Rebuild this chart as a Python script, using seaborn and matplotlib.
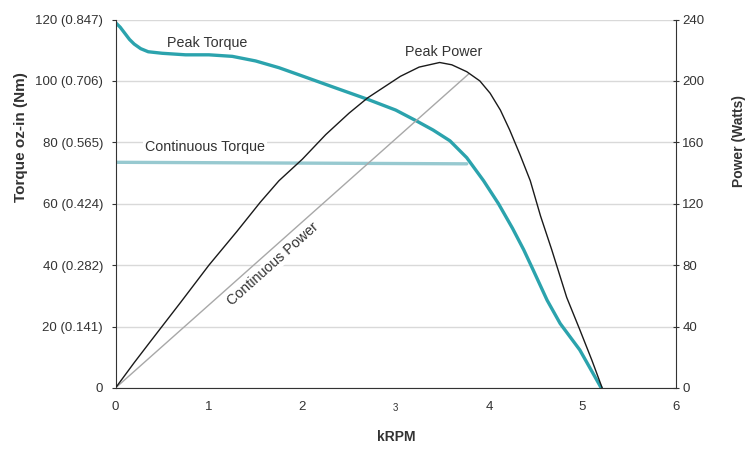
import matplotlib
matplotlib.use("Agg")
import matplotlib.pyplot as plt
import seaborn as sns

# ---- data ----
krpm_peak_torque = [0.0, 0.05, 0.1, 0.15, 0.2, 0.27, 0.35, 0.5, 0.75, 1.0, 1.25, 1.5,
                    1.75, 2.0, 2.33, 2.7, 3.0, 3.22, 3.4, 3.58, 3.76, 3.94, 4.1, 4.25,
                    4.37, 4.47, 4.62, 4.76, 4.97, 5.2]
peak_torque = [119.0, 117.5, 115.5, 113.5, 112.0, 110.5, 109.5, 109.0, 108.5, 108.5, 108.0, 106.5,
               104.3, 101.6, 98.0, 94.0, 90.5, 87.0, 84.0, 80.5, 75.0, 67.5, 60.0, 52.0,
               45.0, 38.5, 28.6, 21.0, 12.4, 0.0]

krpm_cont_torque = [0.0, 3.76]
cont_torque = [73.5, 73.0]

krpm_peak_power = [0.0, 0.2, 0.37, 0.7, 1.0, 1.3, 1.55, 1.75, 2.0, 2.25, 2.5, 2.7, 2.9, 3.05,
                   3.25, 3.47, 3.6, 3.76, 3.9, 4.01, 4.12, 4.22, 4.33, 4.44, 4.55, 4.67,
                   4.83, 4.97, 5.1, 5.21]
peak_power = [0.0, 16.5, 30.0, 56.0, 80.0, 102.0, 121.0, 135.0, 149.0, 165.0, 179.0, 189.0, 197.0, 203.0,
              209.0, 212.0, 210.5, 206.0, 200.0, 192.0, 181.0, 168.0, 152.0, 135.0, 112.0, 90.0,
              59.0, 38.0, 18.0, 0.0]

krpm_cont_power = [0.0, 3.78]
cont_power = [0.0, 204.5]

x_ticks = [0, 1, 2, 3, 4, 5, 6]
x_labels = ["0", "1", "2", "3", "4", "5", "6"]
torque_ticks = [0, 20, 40, 60, 80, 100, 120]
torque_labels = ["0", "20 (0.141)", "40 (0.282)", "60 (0.424)", "80 (0.565)",
                 "100 (0.706)", "120 (0.847)"]
power_ticks = [0, 40, 80, 120, 160, 200, 240]
power_labels = ["0", "40", "80", "120", "160", "200", "240"]

# ---- style ----
sns.set_style("white")
plt.rcParams['font.family'] = ['Liberation Sans', 'DejaVu Sans']
txt = "#333333"
spine_c = "#333333"
teal = "#2ba3ad"
light_teal = "#97c9d0"

fig = plt.figure(figsize=(7.51, 4.51), dpi=100)
ax = fig.add_axes([115.5 / 751, 1 - 388 / 451, (676 - 115.5) / 751, (388 - 19.5) / 451])
ax2 = ax.twinx()

# grid (torque axis)
ax.set_axisbelow(True)
ax.yaxis.grid(True, color="#d9d9d9", linewidth=1.0)
ax.xaxis.grid(False)

sns.lineplot(x=krpm_cont_torque, y=cont_torque, ax=ax, color=light_teal, linewidth=2.4)
sns.lineplot(x=krpm_peak_torque, y=peak_torque, ax=ax, color=teal, linewidth=2.4)
sns.lineplot(x=krpm_cont_power, y=cont_power, ax=ax2, color="#a8a8a8", linewidth=1.0)
sns.lineplot(x=krpm_peak_power, y=peak_power, ax=ax2, color="#1a1a1a", linewidth=1.0)

ax.set_xlim(0, 6)
ax.set_ylim(0, 120)
ax2.set_ylim(0, 240)

ax.set_xticks(x_ticks)
ax.set_xticklabels(x_labels)
ax.set_yticks(torque_ticks)
ax.set_yticklabels(torque_labels)
ax2.set_yticks(power_ticks)
ax2.set_yticklabels(power_labels)

for a in (ax, ax2):
    for s in a.spines.values():
        s.set_color(spine_c)
        s.set_linewidth(0.8)
    a.spines['top'].set_visible(False)
ax.spines['right'].set_visible(False)
ax2.spines['left'].set_visible(False)
ax2.spines['bottom'].set_visible(False)

ax.tick_params(axis='x', direction='out', length=3, width=0.8, color=spine_c,
               labelsize=9.5, labelcolor=txt, pad=6)
ax.tick_params(axis='y', direction='out', length=3, width=0.8, color=spine_c,
               labelsize=9.5, labelcolor=txt, pad=6)
ax2.tick_params(axis='y', direction='inout', length=5, width=0.8, color=spine_c,
                labelsize=9.5, labelcolor=txt, pad=2)

# the odd small "3" tick label
t3 = ax.xaxis.get_major_ticks()[3]
t3.label1.set_fontsize(7)
t3.set_pad(7.5)

ax.set_xlabel("kRPM", fontsize=10, fontweight='bold', color=txt)
ax.xaxis.set_label_coords(0.5, -0.115)
ax.set_ylabel("Torque oz-in (Nm)", fontsize=11, fontweight='bold', color=txt)
ax.yaxis.set_label_coords(-0.157, 0.681)
ax2.set_ylabel("Power (Watts)", fontsize=10, fontweight='bold', color=txt)
ax2.yaxis.set_label_coords(1.0994, 0.670)

# series labels
ax.text(0.98, 112.5, "Peak Torque", fontsize=10.3, color=txt, ha='center', va='center')
ax.text(0.96, 78.4, "Continuous Torque", fontsize=10.3, color=txt, ha='center', va='center',
        bbox=dict(facecolor='white', edgecolor='none', pad=1.5))
ax.text(3.51, 109.3, "Peak Power", fontsize=10.3, color=txt, ha='center', va='center')
ax.text(1.69, 40.3, "Continuous Power", fontsize=10.3, color=txt, ha='center', va='center',
        rotation=41.8, rotation_mode='anchor',
        bbox=dict(facecolor='white', edgecolor='none', pad=0.5))

fig.savefig("out.png", dpi=100)
